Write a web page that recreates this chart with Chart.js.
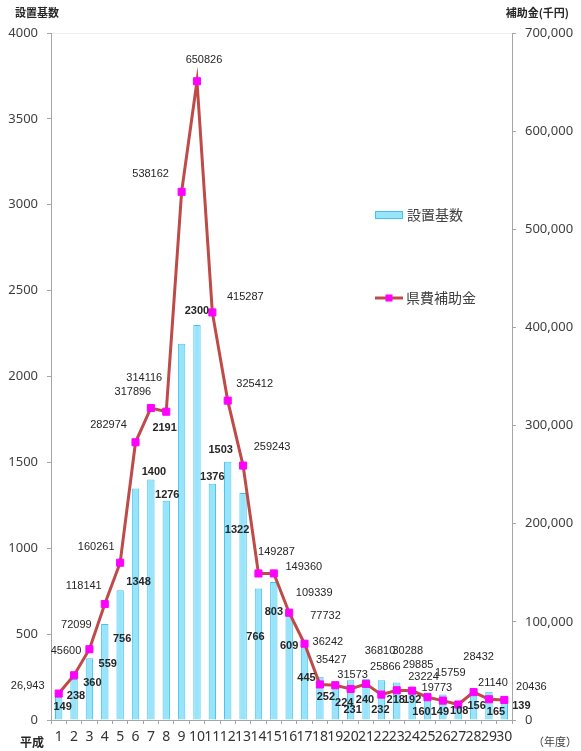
<!DOCTYPE html>
<html lang="ja">
<head>
<meta charset="utf-8">
<title>設置基数と県費補助金</title>
<script src="https://cdn.jsdelivr.net/npm/chart.js@4/dist/chart.umd.min.js"></script>
<style>
  html, body { margin:0; padding:0; background:#fff; }
  canvas { display:block; }
</style>
</head>
<body>
<canvas id="chart" width="581" height="751"></canvas>
<script>
// 年度（平成）
const YEARS = ['1','2','3','4','5','6','7','8','9','10',
               '11','12','13','14','15','16','17','18','19','20',
               '21','22','23','24','25','26','27','28','29','30'];

// 設置基数
const UNITS = [149, 238, 360, 559, 756, 1348, 1400, 1276, 2191, 2300,
               1376, 1503, 1322, 766, 803, 609, 445, 252, 224, 231,
               240, 232, 218, 192, 160, 149, 108, 156, 165, 139];

// 県費補助金（千円）
const SUBSIDY = [26943, 45600, 72099, 118141, 160261, 282974, 317896, 314116, 538162, 650826,
                 415287, 325412, 259243, 149287, 149360, 109339, 77732, 36242, 35427, 31573,
                 36810, 25866, 30288, 29885, 23224, 19773, 15759, 28432, 21140, 20436];

// 目盛
const LEFT_MAX = 4000, LEFT_STEP = 500;
const RIGHT_MAX = 700000, RIGHT_STEP = 100000;

// ラベルのずれ（px, 点からの相対位置）
const UNIT_LABEL_OFFSET = [
  [4,13],[2,17],[3,25],[3,40],[2,49],[3,93],[3,-8],[1,-6],[-17,84],[0,-14],
  [0,-7],[-7,-12],[-6,37],[-3,49],[0,30],[0,31],[2,34],[6,20],[9,21],[2,30],
  [-1,21],[-1,30],[-1,17],[0,13],[-6,19],[-3,18],[1,10],[3,13],[7,20],[17,10]
];
const SUBSIDY_LABEL_OFFSET = [
  [-31,-8],[-8,-24],[-13,-24],[-21,-18],[-24,-16],[-27,-17],[-18,-16],[-22,-34],[-31,-18],[7,-21],
  [33,-15],[27,-17],[29,-19],[18,-22],[30,-6],[25,-20],[21,-28],[8,-42],[-4,-25],[2,-14],
  [14,-33],[4,-28],[11,-39],[6,-26],[-4,-20],[-6,-13],[-8,-32],[5,-35],[4,-16],[27,-13]
];

const BAR_FILL = '#97E4FB';
const BAR_EDGE = '#45C3EF';
const LINE_COLOR = '#BE4B48';
const MARK_COLOR = '#FF00FF';
const AXIS_COLOR = '#A6A6A6';
const TEXT_COLOR = '#404040';
const JP_FONT = '"Noto Sans CJK JP", "Noto Sans", sans-serif';
const NUM_FONT = '"Noto Sans", "DejaVu Sans", sans-serif';
const LBL_FONT = '"Liberation Sans", Arial, sans-serif';

const fmtComma = (v) => v.toLocaleString('en-US');

const labelsPlugin = {
  id: 'valueLabels',
  afterDatasetsDraw(chart) {
    const ctx = chart.ctx;
    ctx.save();
    ctx.textAlign = 'center';
    ctx.textBaseline = 'middle';

    const bars = chart.getDatasetMeta(0).data;
    ctx.font = `bold 11px ${LBL_FONT}`;
    ctx.fillStyle = '#262626';
    bars.forEach((b, i) => {
      const [dx, dy] = UNIT_LABEL_OFFSET[i];
      ctx.fillText(String(UNITS[i]), b.x + dx, b.y + dy);
    });

    const pts = chart.getDatasetMeta(1).data;
    ctx.font = `11px ${LBL_FONT}`;
    ctx.fillStyle = '#262626';
    pts.forEach((p, i) => {
      const [dx, dy] = SUBSIDY_LABEL_OFFSET[i];
      const txt = i === 0 ? fmtComma(SUBSIDY[i]) : String(SUBSIDY[i]);
      ctx.fillText(txt, p.x + dx, p.y + dy);
    });
    ctx.restore();
  },
  afterDraw(chart) {
    const ctx = chart.ctx;
    const area = chart.chartArea;
    ctx.save();
    ctx.textBaseline = 'middle';

    // 軸タイトル
    ctx.fillStyle = '#262626';
    ctx.font = `bold 11px ${JP_FONT}`;
    ctx.textAlign = 'left';
    ctx.fillText('設置基数', 15, 13);
    ctx.textAlign = 'right';
    ctx.fillText('補助金(千円)', 569, 13);

    ctx.font = `bold 12px ${JP_FONT}`;
    ctx.textAlign = 'left';
    ctx.fillText('平成', 20, 742);
    ctx.font = `11px ${JP_FONT}`;
    ctx.fillStyle = TEXT_COLOR;
    ctx.textAlign = 'right';
    ctx.fillText('（年度）', 577, 742);

    // 凡例
    const lx = area.left + 324;
    ctx.fillStyle = BAR_FILL;
    ctx.strokeStyle = BAR_EDGE;
    ctx.lineWidth = 1;
    ctx.fillRect(lx, 211, 27, 7);
    ctx.strokeRect(lx + 0.5, 211.5, 27, 7);
    ctx.font = `14px ${JP_FONT}`;
    ctx.fillStyle = TEXT_COLOR;
    ctx.textAlign = 'left';
    ctx.fillText('設置基数', lx + 32, 215);

    ctx.strokeStyle = LINE_COLOR;
    ctx.lineWidth = 3;
    ctx.beginPath();
    ctx.moveTo(lx, 298);
    ctx.lineTo(lx + 28, 298);
    ctx.stroke();
    ctx.fillStyle = MARK_COLOR;
    ctx.fillRect(lx + 10.5, 294.5, 7, 7);
    ctx.fillStyle = TEXT_COLOR;
    ctx.fillText('県費補助金', lx + 31, 298);
    ctx.restore();
  }
};

new Chart(document.getElementById('chart'), {
  data: {
    labels: YEARS,
    datasets: [
      {
        type: 'bar',
        label: '設置基数',
        data: UNITS,
        yAxisID: 'y',
        backgroundColor: BAR_FILL,
        borderColor: BAR_EDGE,
        borderWidth: 1,
        barPercentage: 0.48,
        categoryPercentage: 1,
        order: 2
      },
      {
        type: 'line',
        label: '県費補助金',
        data: SUBSIDY,
        yAxisID: 'y2',
        borderColor: LINE_COLOR,
        borderWidth: 3,
        tension: 0,
        pointStyle: 'rect',
        pointRadius: 5,
        pointBackgroundColor: MARK_COLOR,
        pointBorderColor: MARK_COLOR,
        pointBorderWidth: 1,
        order: 1
      }
    ]
  },
  options: {
    responsive: false,
    animation: false,
    layout: { padding: { top: 33, left: 0, right: 0, bottom: 0 } },
    plugins: {
      legend: { display: false },
      tooltip: { enabled: false },
      title: { display: false }
    },
    scales: {
      x: {
        offset: true,
        grid: { offset: true, drawOnChartArea: false, tickLength: 4, tickColor: AXIS_COLOR },
        border: { color: AXIS_COLOR },
        ticks: {
          autoSkip: false, maxRotation: 0, padding: 5,
          color: '#333333', font: { family: NUM_FONT, size: 14 }
        },
        afterFit: (s) => { s.height = 31; }
      },
      y: {
        position: 'left',
        min: 0, max: LEFT_MAX,
        grid: {
          drawOnChartArea: true,
          color: (c) => (c.tick && c.tick.value === LEFT_MAX) ? '#EEEEEE' : 'rgba(0,0,0,0)',
          tickColor: AXIS_COLOR, tickLength: 4
        },
        border: { color: AXIS_COLOR },
        ticks: {
          stepSize: LEFT_STEP, padding: 9,
          color: TEXT_COLOR, font: { family: NUM_FONT, size: 13 },
          callback: (v) => String(v)
        },
        afterFit: (s) => { s.width = 51; }
      },
      y2: {
        position: 'right',
        min: 0, max: RIGHT_MAX,
        grid: { drawOnChartArea: false, tickColor: AXIS_COLOR, tickLength: 4 },
        border: { color: AXIS_COLOR },
        ticks: {
          stepSize: RIGHT_STEP, padding: 9,
          color: TEXT_COLOR, font: { family: NUM_FONT, size: 13 },
          callback: (v) => fmtComma(v)
        },
        afterFit: (s) => { s.width = 69; }
      }
    }
  },
  plugins: [labelsPlugin]
});
</script>
</body>
</html>
